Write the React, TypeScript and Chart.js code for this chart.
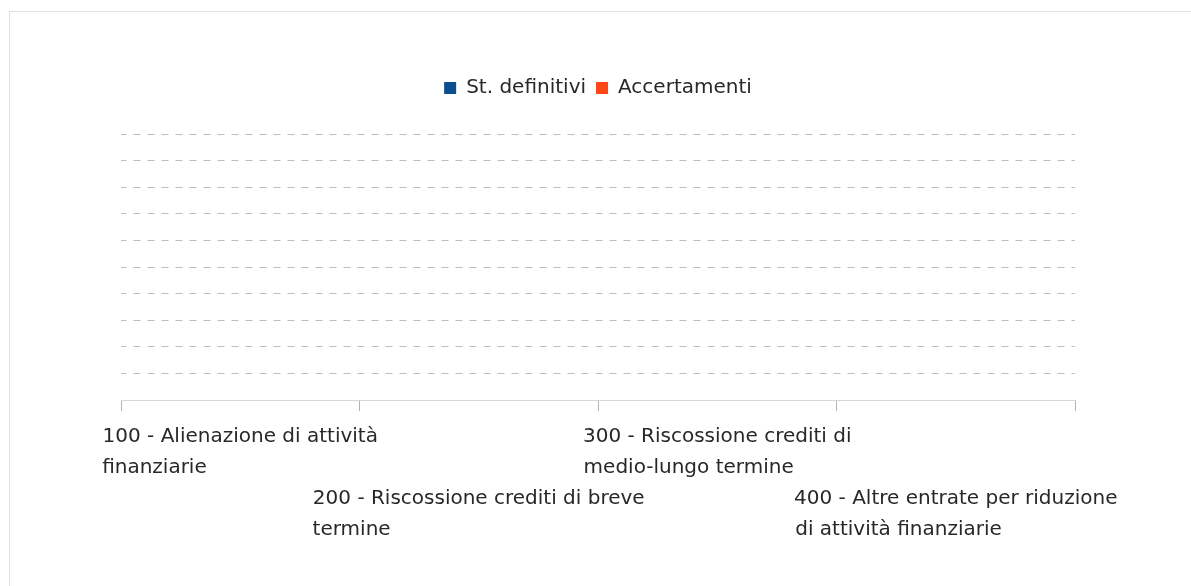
import React, { useEffect, useRef } from "react";
import { Chart, registerables } from "chart.js";

Chart.register(...registerables);

// ---- data ----
const categories: string[][] = [
  ["100 - Alienazione di attività", "finanziarie"],
  ["200 - Riscossione crediti di breve", "termine"],
  ["300 - Riscossione crediti di", "medio-lungo termine"],
  ["400 - Altre entrate per riduzione", "di attività finanziarie"],
];
const seriesNames = ["St. definitivi", "Accertamenti"];
const stDefinitivi = [0, 0, 0, 0];
const accertamenti = [0, 0, 0, 0];
const seriesColors = ["#0b4d90", "#ff4616"];
const yMin = 0;
const yMax = 10;
const yStep = 1;

// ---- style ----
const FONT_FAMILY = '"DejaVu Sans", sans-serif';
const LABEL_SIZE = 20;
const LEGEND_SIZE = 20;
const TEXT_COLOR = "#282828";

let measureCtx: CanvasRenderingContext2D | null = null;
function padLines(lines: string[], size: number): string[] {
  if (!measureCtx) measureCtx = document.createElement("canvas").getContext("2d");
  const ctx = measureCtx!;
  ctx.font = `${size}px ${FONT_FAMILY}`;
  const widths = lines.map((l) => ctx.measureText(l).width);
  const max = Math.max(...widths);
  const sp = ctx.measureText(" ").width;
  return lines.map((l, i) => l + " ".repeat(Math.max(0, Math.round((max - widths[i]) / sp))));
}

const legendSpacer = {
  id: "legendSpacer",
  beforeInit(chart: any) {
    const legend = chart.legend;
    if (!legend) return;
    const origFit = legend.fit;
    legend.fit = function fit() {
      origFit.call(this);
      this.height += 26;
    };
  },
};

export default function App() {
  const canvasRef = useRef<HTMLCanvasElement | null>(null);

  useEffect(() => {
    const canvas = canvasRef.current;
    if (!canvas) return;
    const chart = new Chart(canvas, {
      type: "bar",
      data: {
        labels: categories.map((c) => c.join(" ")),
        datasets: [
          {
            label: seriesNames[0],
            data: stDefinitivi,
            backgroundColor: seriesColors[0],
            borderWidth: 0,
          },
          {
            label: seriesNames[1],
            data: accertamenti,
            backgroundColor: seriesColors[1],
            borderWidth: 0,
          },
        ],
      },
      plugins: [legendSpacer],
      options: {
        responsive: false,
        animation: false,
        devicePixelRatio: 1,
        layout: {
          padding: { left: 121, right: 116, top: 68, bottom: 31 },
        },
        plugins: {
          legend: {
            display: true,
            position: "top",
            labels: {
              boxWidth: 12,
              boxHeight: 12,
              padding: 10,
              color: TEXT_COLOR,
              font: { family: FONT_FAMILY, size: LEGEND_SIZE },
            },
          },
          tooltip: { enabled: false },
        },
        scales: {
          x: {
            offset: true,
            grid: {
              display: true,
              offset: true,
              drawOnChartArea: false,
              drawTicks: true,
              tickLength: 11,
              color: "#b3b3b3",
              lineWidth: 1,
            },
            border: { display: true, color: "#d6d6d6", width: 1 },
            ticks: {
              autoSkip: false,
              maxRotation: 0,
              minRotation: 0,
              padding: 10,
              color: TEXT_COLOR,
              font: { family: FONT_FAMILY, size: LABEL_SIZE, lineHeight: "31px" },
              callback: (_v: any, index: number) => {
                const lines = padLines(categories[index], LABEL_SIZE);
                return index % 2 === 1 ? ["", "", ...lines] : lines;
              },
            },
          },
          y: {
            min: yMin,
            max: yMax,
            grid: {
              display: true,
              drawTicks: false,
              color: "#bdbdbd",
              lineWidth: 1,
            },
            border: { display: false, dash: [7, 7], dashOffset: 1.5 },
            ticks: { display: false, stepSize: yStep },
          },
        },
      },
    });
    return () => chart.destroy();
  }, []);

  return (
    <>
      <div
        style={{
          position: "fixed",
          left: 9,
          top: 11,
          width: 2000,
          height: 2000,
          border: "1px solid #e0e0e0",
          background: "#fff",
        }}
      />
      <div style={{ position: "fixed", left: 0, top: 0, width: 1191, height: 586 }}>
        <canvas ref={canvasRef} width={1191} height={586} style={{ display: "block" }} />
      </div>
    </>
  );
}
